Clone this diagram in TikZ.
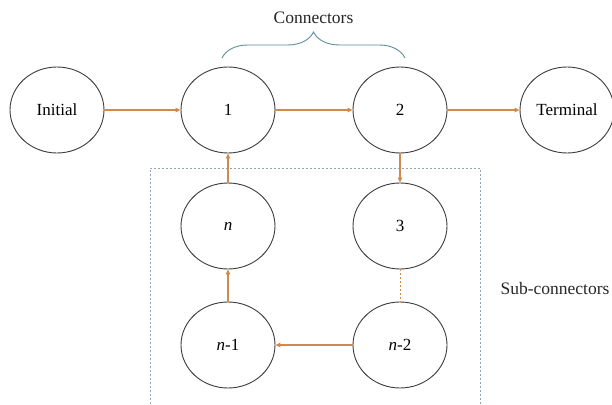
\documentclass[tikz,border=0pt]{standalone}
\usepackage{fontspec}
\setmainfont{Liberation Serif}
\usetikzlibrary{shapes.geometric,arrows.meta,decorations.pathreplacing}
\definecolor{flow}{HTML}{D08A4E}
\definecolor{frame}{HTML}{8FA6B0}
\definecolor{bracecol}{HTML}{5E8F9C}
\definecolor{rim}{HTML}{3C3C3C}
\tikzset{
  state/.style={ellipse, draw=rim, line width=0.9pt, minimum width=94pt, minimum height=86pt,
    inner sep=0pt, font=\fontsize{17}{20}\selectfont},
  flowarrow/.style={draw=flow, line width=1.3pt, -{Triangle[length=5pt,width=4.5pt]}},
  flowdash/.style={draw=flow, line width=0.6pt, dash pattern=on 2pt off 2pt},
  label/.style={font=\fontsize{17.5}{20}\selectfont, text=black!85}
}
\begin{document}
\begin{tikzpicture}[x=1pt,y=1pt]
  \useasboundingbox (0,0) rectangle (612,404);

  % dotted frame around the sub-connectors (open at the bottom)
  \draw[frame, line width=0.9pt, dash pattern=on 2pt off 2pt]
    (150,0) -- (150,236) -- (480,236) -- (480,0);

  % states
  \node[state] (init) at (57,294) {Initial};
  \node[state] (c1)   at (228,294) {1};
  \node[state] (c2)   at (400,294) {2};
  \node[state] (term) at (567,294) {Terminal};
  \node[state] (cn)   at (228,178) {\textit{n}};
  \node[state] (c3)   at (400,178) {3};
  \node[state] (cn1)  at (228,59) {\textit{n}-1};
  \node[state] (cn2)  at (400,59) {\textit{n}-2};

  % transitions
  \draw[flowarrow] (init) -- (c1);
  \draw[flowarrow] (c1) -- (c2);
  \draw[flowarrow] (c2) -- (term);
  \draw[flowarrow] (c2) -- (c3);
  \draw[flowdash]  (c3) -- (cn2);
  \draw[flowarrow] (cn2) -- (cn1);
  \draw[flowarrow] (cn1) -- (cn);
  \draw[flowarrow] (cn) -- (c1);

  % brace over the connectors
  \coordinate (bl) at (222,346);
  \coordinate (br) at (405,346);
  \draw[bracecol, line width=0.9pt, decorate, decoration={brace, amplitude=26pt}] (bl) -- (br);
  \node[label] (conn) at (313.5,386) {Connectors};
  \node[label] (sub) at (555,115) {Sub-connectors};
\end{tikzpicture}
\end{document}
